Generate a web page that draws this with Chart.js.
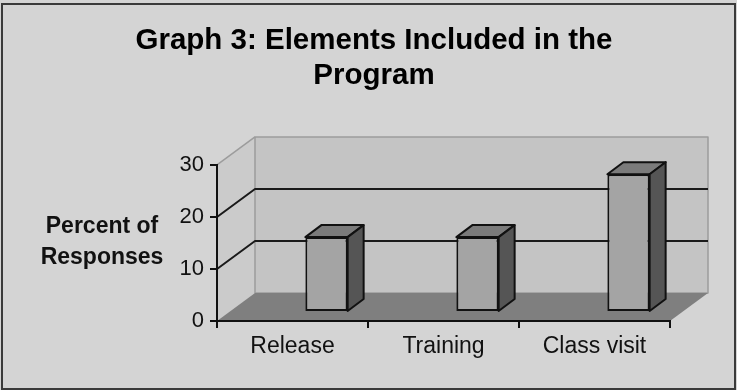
<!DOCTYPE html>
<html><head><meta charset="utf-8">
<script src="https://cdn.jsdelivr.net/npm/chart.js@4/dist/chart.umd.min.js"></script>
<style>html,body{margin:0;padding:0;background:#d4d4d4;}canvas{display:block}</style>
</head><body>
<canvas id="c" width="737" height="390"></canvas>
<script>
// ---- data ----
const categories = ['Release', 'Training', 'Class visit'];
const percentValues = [14.4, 14.4, 26.5];
const yTickValues = [0, 10, 20, 30];
const chartTitle = ['Graph 3: Elements Included in the', 'Program'];
const yAxisTitle = ['Percent of', 'Responses'];

// ---- 3D projection style ----
const DEPTH = { dx: 38, dy: -28 };
const BAR_DEPTH = { dx: 16, dy: -12 };
const BAR_SHIFT = { dx: 34, dy: -9 };
const FONT = "'Liberation Sans', Arial, sans-serif";

function poly(ctx, pts, fill, stroke, lw) {
  ctx.beginPath();
  ctx.moveTo(pts[0][0], pts[0][1]);
  for (let i = 1; i < pts.length; i++) ctx.lineTo(pts[i][0], pts[i][1]);
  ctx.closePath();
  if (fill) { ctx.fillStyle = fill; ctx.fill(); }
  if (stroke) { ctx.strokeStyle = stroke; ctx.lineWidth = lw || 1; ctx.lineJoin = 'round'; ctx.stroke(); }
}

const threeD = {
  id: 'threeD',
  beforeDraw(chart) {
    const ctx = chart.ctx;
    const ys = chart.scales.y;
    const area = chart.chartArea;
    const L = area.left, R = area.right;
    const B = ys.getPixelForValue(yTickValues[0]);
    const T = ys.getPixelForValue(yTickValues[yTickValues.length - 1]);
    const dx = DEPTH.dx, dy = DEPTH.dy;
    ctx.save();
    // background & frame
    ctx.fillStyle = '#d4d4d4';
    ctx.fillRect(0, 0, chart.width, chart.height);
    ctx.strokeStyle = '#3a3a3a';
    ctx.lineWidth = 2;
    ctx.strokeRect(2, 4, chart.width - 4, chart.height - 5);
    // side wall
    poly(ctx, [[L, B], [L, T], [L + dx, T + dy], [L + dx, B + dy]], '#cbcbcb');
    // back wall
    poly(ctx, [[L + dx, T + dy], [R + dx, T + dy], [R + dx, B + dy], [L + dx, B + dy]], '#c4c4c4', '#9c9c9c', 1.5);
    ctx.beginPath();
    ctx.moveTo(L, T); ctx.lineTo(L + dx, T + dy);
    ctx.strokeStyle = '#9c9c9c'; ctx.lineWidth = 1.5; ctx.stroke();
    // gridlines on walls
    ctx.strokeStyle = '#1a1a1a';
    ctx.lineWidth = 2;
    yTickValues.slice(1, -1).forEach(v => {
      const y = ys.getPixelForValue(v);
      ctx.beginPath();
      ctx.moveTo(L, y);
      ctx.lineTo(L + dx, y + dy);
      ctx.lineTo(R + dx, y + dy);
      ctx.stroke();
    });
    // floor
    poly(ctx, [[L, B], [R, B], [R + dx, B + dy], [L + dx, B + dy]], '#7f7f7f');
    // y-axis title (horizontal, two lines)
    ctx.fillStyle = '#111';
    ctx.font = 'bold 23px ' + FONT;
    ctx.textAlign = 'center';
    ctx.textBaseline = 'alphabetic';
    yAxisTitle.forEach((t, i) => ctx.fillText(t, 102, 233 + i * 31));
    ctx.restore();
  },
  beforeDatasetsDraw(chart) {
    chart.ctx.save();
    chart.ctx.translate(BAR_SHIFT.dx, BAR_SHIFT.dy);
  },
  afterDatasetsDraw(chart) {
    const ctx = chart.ctx;
    const meta = chart.getDatasetMeta(0);
    meta.data.forEach(el => {
      const p = el.getProps(['x', 'y', 'base', 'width'], true);
      const x0 = p.x - p.width / 2, x1 = p.x + p.width / 2;
      const top = p.y, bot = p.base;
      const bx = BAR_DEPTH.dx, by = BAR_DEPTH.dy;
      poly(ctx, [[x0, top], [x1, top], [x1 + bx, top + by], [x0 + bx, top + by]], '#7b7b7b', '#111', 2);
      poly(ctx, [[x1, top], [x1 + bx, top + by], [x1 + bx, bot + by], [x1, bot]], '#555555', '#111', 2);
    });
    ctx.restore();
  }
};

new Chart(document.getElementById('c'), {
  type: 'bar',
  data: {
    labels: categories,
    datasets: [{
      label: 'Percent of Responses',
      data: percentValues,
      backgroundColor: '#a4a4a4',
      borderColor: '#111',
      borderWidth: 2,
      borderSkipped: false,
      barPercentage: 0.28,
      categoryPercentage: 1
    }]
  },
  options: {
    responsive: false,
    animation: false,
    events: [],
    layout: { padding: { left: 78, right: 67, top: 0, bottom: 0 } },
    plugins: {
      legend: { display: false },
      tooltip: { enabled: false },
      title: {
        display: true,
        text: chartTitle,
        color: '#000',
        font: { family: FONT, size: 29.5, weight: 'bold', lineHeight: 1.186 },
        padding: { top: 23, bottom: 72 }
      }
    },
    scales: {
      x: {
        grid: { display: true, offset: true, drawOnChartArea: false, drawTicks: true, tickLength: 7, color: '#111', lineWidth: 2 },
        border: { display: true, color: '#111', width: 2 },
        ticks: { color: '#111', font: { family: FONT, size: 23 }, padding: 5, maxRotation: 0 },
        afterFit(s) { s.height = 69; }
      },
      y: {
        min: 0, max: 30,
        afterBuildTicks(s) { s.ticks = yTickValues.map(v => ({ value: v })); },
        grid: { display: true, drawOnChartArea: false, drawTicks: true, tickLength: 7, color: '#111', lineWidth: 2 },
        border: { display: true, color: '#111', width: 2 },
        ticks: { color: '#111', font: { family: FONT, size: 22 }, padding: 6 },
        afterFit(s) { s.width = 139; }
      }
    }
  },
  plugins: [threeD]
});
</script>
</body></html>
